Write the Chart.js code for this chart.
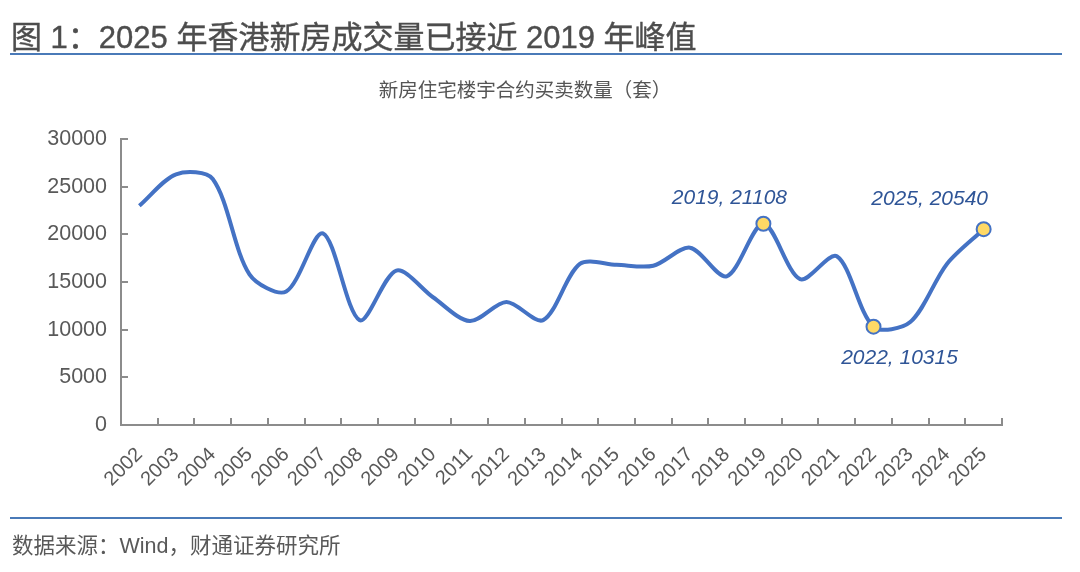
<!DOCTYPE html>
<html>
<head>
<meta charset="utf-8">
<script src="https://cdn.jsdelivr.net/npm/chart.js@4/dist/chart.umd.min.js"></script>
<style>
    body { margin: 0; background: #fff; }
    #page { position: relative; width: 1080px; height: 572px; overflow: hidden; font-family: "Liberation Sans", "Noto Sans CJK SC", sans-serif; }
    #title { position: absolute; left: 11px; top: 12px; font-size: 31px; color: #4d4d4d; white-space: nowrap; -webkit-text-stroke: 0.4px #4d4d4d; }
    .rule { position: absolute; left: 10px; width: 1052px; height: 2px; background: #4a7ab8; }
    #subtitle { position: absolute; left: 0; width: 1050px; top: 74px; text-align: center; font-size: 19.5px; color: #555; font-family: "Noto Sans CJK SC", sans-serif; }
    #source { position: absolute; left: 12px; top: 528px; font-size: 21.5px; color: #595959; white-space: nowrap; }
    #chartBox { position: absolute; left: 0; top: 0; width: 1080px; height: 572px; }
</style>
</head>
<body>
<div id="page">
    <div id="chartBox"><canvas id="chart"></canvas></div>
    <div id="title">图 1：2025 年香港新房成交量已接近 2019 年峰值</div>
    <div class="rule" style="top:53px"></div>
    <div id="subtitle">新房住宅楼宇合约买卖数量（套）</div>
    <div class="rule" style="top:517px"></div>
    <div id="source">数据来源：Wind，财通证券研究所</div>
</div>
<script>
// 年份与成交量（套）
const years = ['2002', '2003', '2004', '2005', '2006', '2007', '2008', '2009', '2010', '2011', '2012', '2013',
    '2014', '2015', '2016', '2017', '2018', '2019', '2020', '2021', '2022', '2023', '2024', '2025'];
const sales = [23000, 26300, 25800, 15800, 14000, 20100, 11000, 16200, 13400, 10900, 12900, 11000,
    16900, 16800, 16700, 18600, 15600, 21108, 15300, 17700, 10315, 10800, 16900, 20540];
const yTicks = [0, 5000, 10000, 15000, 20000, 25000, 30000];
// 标注的点
const markedYears = ['2019', '2022', '2025'];

const lineColor = '#4472c4';
const axisColor = '#8c8c8c';
const labelColor = '#2f5597';

const markedIdx = markedYears.map(y => years.indexOf(y));

// 轴线内侧的小刻度
const innerTicks = {
    id: 'innerTicks',
    afterDatasetsDraw(chart) {
        const ctx = chart.ctx;
        const x = chart.scales.x;
        const y = chart.scales.y;
        ctx.save();
        ctx.strokeStyle = axisColor;
        ctx.lineWidth = 2;
        ctx.beginPath();
        for (let i = 0; i <= years.length; i++) {
            const px = Math.round(x.getPixelForValue(i - 0.5));
            ctx.moveTo(px, y.bottom);
            ctx.lineTo(px, y.bottom - 7);
        }
        yTicks.forEach(v => {
            const py = Math.round(y.getPixelForValue(v));
            ctx.moveTo(x.left, py);
            ctx.lineTo(x.left + 7, py);
        });
        ctx.stroke();
        ctx.restore();
    }
};

// 数据标签
const pointLabels = {
    id: 'pointLabels',
    afterDatasetsDraw(chart) {
        const ctx = chart.ctx;
        const meta = chart.getDatasetMeta(0);
        const offsets = { '2019': [-34, -26], '2022': [26, 31], '2025': [-54, -30] };
        ctx.save();
        ctx.font = 'italic 21px "Liberation Sans", sans-serif';
        ctx.fillStyle = labelColor;
        ctx.textAlign = 'center';
        ctx.textBaseline = 'middle';
        markedIdx.forEach(i => {
            const pt = meta.data[i];
            const off = offsets[years[i]];
            ctx.fillText(years[i] + ', ' + sales[i], pt.x + off[0], pt.y + off[1]);
        });
        ctx.restore();
    }
};

new Chart(document.getElementById('chart'), {
    type: 'line',
    data: {
        labels: years,
        datasets: [{
            data: sales,
            borderColor: lineColor,
            borderWidth: 4,
            tension: 0.3,
            fill: false,
            pointRadius: sales.map((v, i) => markedIdx.includes(i) ? 7 : 0),
            pointBackgroundColor: '#ffd966',
            pointBorderColor: lineColor,
            pointBorderWidth: 2
        }]
    },
    options: {
        responsive: true,
        maintainAspectRatio: false,
        animation: false,
        layout: { padding: { top: 139, right: 78, left: 0, bottom: 0 } },
        plugins: {
            legend: { display: false },
            tooltip: { enabled: false }
        },
        scales: {
            x: {
                offset: true,
                afterFit(scale) { scale.height = 147; },
                grid: { display: true, drawOnChartArea: false, drawTicks: false, offset: true },
                border: { color: axisColor, width: 2 },
                ticks: {
                    autoSkip: false,
                    minRotation: 45,
                    maxRotation: 45,
                    padding: 18,
                    color: '#595959',
                    font: { family: '"Liberation Sans", sans-serif', size: 20 }
                }
            },
            y: {
                min: 0,
                max: 30000,
                afterFit(scale) { scale.width = 121; },
                afterBuildTicks(scale) { scale.ticks = yTicks.map(v => ({ value: v })); },
                grid: { display: true, drawOnChartArea: false, drawTicks: false },
                border: { color: axisColor, width: 2 },
                ticks: {
                    padding: 14,
                    color: '#595959',
                    font: { family: '"Liberation Sans", sans-serif', size: 21.5 },
                    callback: v => String(v)
                }
            }
        }
    },
    plugins: [innerTicks, pointLabels]
});
</script>
</body>
</html>
